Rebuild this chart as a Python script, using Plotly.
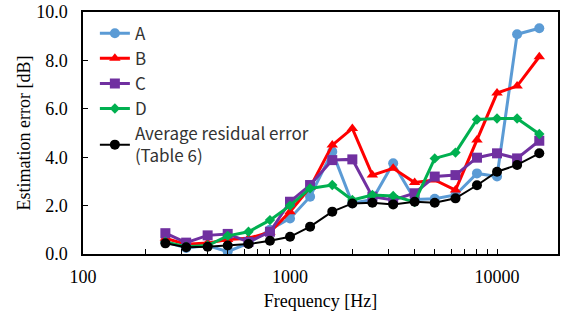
import plotly.graph_objects as go

freqs = [250, 315, 400, 500, 630, 800, 1000, 1250, 1600, 2000, 2500, 3150,
         4000, 5000, 6300, 8000, 10000, 12500, 16000]
series_A = [0.50, 0.25, 0.35, 0.10, 0.45, 1.00, 1.47, 2.37, 4.23, 2.10, 2.25, 3.75,
            2.25, 2.28, 2.44, 3.33, 3.20, 9.08, 9.33]
series_B = [0.65, 0.40, 0.45, 0.60, 0.65, 0.90, 1.75, 2.75, 4.50, 5.19, 3.26, 3.54,
            2.95, 3.06, 2.64, 4.71, 6.65, 6.94, 8.15]
series_C = [0.86, 0.47, 0.77, 0.83, 0.50, 0.92, 2.16, 2.85, 3.88, 3.91, 2.37, 2.23,
            2.51, 3.20, 3.26, 3.98, 4.16, 3.95, 4.68]
series_D = [0.50, 0.30, 0.35, 0.75, 0.92, 1.40, 2.00, 2.71, 2.85, 2.23, 2.44, 2.40,
            2.15, 3.95, 4.19, 5.56, 5.60, 5.60, 4.96]
series_avg = [0.44, 0.28, 0.30, 0.35, 0.41, 0.55, 0.71, 1.13, 1.75, 2.09, 2.12, 2.05,
              2.16, 2.12, 2.30, 2.84, 3.40, 3.68, 4.16]

x_tickvals = [100, 1000, 10000]
x_ticktext = ["100", "1000", "10000"]

names = ["A", "B", "C", "D", "Average residual error<br>(Table 6)"]
colors = ["#5B9BD5", "#FF0000", "#7030A0", "#00B050", "#000000"]
symbols = ["circle", "triangle-up", "square", "diamond", "circle"]
sizes = [10, 10, 10, 8, 10]
widths = [3, 3, 3, 3, 2]
data = [series_A, series_B, series_C, series_D, series_avg]

fig = go.Figure()
for n, c, s, sz, w, y in zip(names, colors, symbols, sizes, widths, data):
    fig.add_trace(go.Scatter(
        x=freqs, y=y, name=n, mode="lines+markers",
        line=dict(color=c, width=w),
        marker=dict(symbol=s, size=sz, color=c),
    ))

fig.update_layout(
    width=561, height=316,
    margin=dict(l=83, r=3, t=12, b=62),
    paper_bgcolor="white", plot_bgcolor="white",
    showlegend=True,
    legend=dict(x=0.025, y=0.985, xanchor="left", yanchor="top",
                bgcolor="rgba(0,0,0,0)",
                font=dict(family="Noto Sans CJK JP", size=17, color="#333333"),
                itemwidth=30, tracegroupgap=0),
    font=dict(family="Liberation Serif", size=18, color="black"),
)
fig.update_xaxes(
    type="log", range=[2, 4.2945],
    tickvals=x_tickvals, ticktext=x_ticktext,
    showline=True, linecolor="black", linewidth=1.5, mirror=True,
    ticks="inside", ticklen=5, tickcolor="black", ticklabelstandoff=6,
    minor=dict(dtick="D1", ticks="inside", ticklen=5, tickcolor="black", showgrid=False),
    showgrid=False, zeroline=False, automargin=False,
    title=dict(text="Frequency [Hz]", font=dict(family="Liberation Serif", size=18), standoff=8),
    tickfont=dict(family="Liberation Serif", size=18),
)
fig.update_yaxes(
    range=[0, 10], dtick=2, tickformat=".1f",
    showline=True, linecolor="black", linewidth=1.5, mirror=True,
    ticks="inside", ticklen=5, tickcolor="black", ticklabelstandoff=10,
    ticklabeloverflow="allow",
    showgrid=False, zeroline=False, automargin=False,
    title=dict(text="Estimation error [dB]", font=dict(family="Liberation Serif", size=18), standoff=1),
    tickfont=dict(family="Liberation Serif", size=18),
)

# remove the browser's default 8px body margin so the figure fills the window
fig.write_html("out.html", config={"displayModeBar": False},
               post_script="document.body.style.margin='0px';")
